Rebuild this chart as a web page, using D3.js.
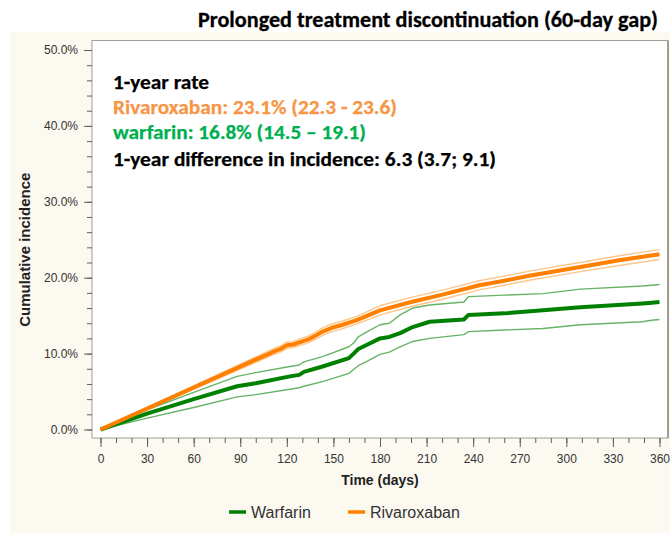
<!DOCTYPE html>
<html>
<head>
<meta charset="utf-8">
<script src="https://cdn.jsdelivr.net/npm/d3@7"></script>
<style>
  body { margin: 0; background: #fff; }
  text { font-family: 'Liberation Sans', Arial, sans-serif; }
  .tick text { fill: #333; font-size: 12px; }
  .tick line { stroke: #5f5f5f; }
  .title, .note { font-family: Carlito, 'Open Sans', sans-serif; font-weight: bold; }
</style>
</head>
<body>
<svg id="chart" width="670" height="533"></svg>
<script>
/* global d3 */

// tick values
var dayTicks = [0, 30, 60, 90, 120, 150, 180, 210, 240, 270, 300, 330, 360];
var dayMinor = d3.range(0, 361, 10);
var pctTicks = [0, 10, 20, 30, 40, 50];
var pctMinor = d3.range(0, 51, 2);

// rivaroxaban cumulative incidence (%)
var rivaDays = [0, 113, 116, 120, 124, 133, 138, 143, 149, 156, 165, 180, 200, 219, 244, 260, 277, 309, 334, 360];
var rivaEst  = [0, 10.4, 10.6, 11.1, 11.2, 11.8, 12.3, 12.9, 13.4, 13.8, 14.4, 15.7, 16.8, 17.7, 19.0, 19.6, 20.3, 21.4, 22.3, 23.1];
var rivaLow  = [0, 10.0, 10.2, 10.7, 10.8, 11.35, 11.85, 12.4, 12.9, 13.3, 13.9, 15.1, 16.2, 17.1, 18.4, 19.0, 19.7, 20.8, 21.6, 22.4];
var rivaHigh = [0, 10.8, 11.0, 11.5, 11.6, 12.25, 12.75, 13.4, 13.9, 14.3, 14.9, 16.3, 17.4, 18.3, 19.6, 20.2, 20.9, 22.0, 22.9, 23.7];

// warfarin cumulative incidence (%)
var warfDays = [0, 30, 60, 88, 100, 122, 128, 131, 143, 160, 163, 166, 171, 180, 186, 193, 201, 212, 234, 237, 260, 285, 309, 349, 355, 360];
var warfEst  = [0, 2.1, 4.0, 5.7, 6.1, 7.0, 7.2, 7.6, 8.3, 9.4, 10.0, 10.6, 11.1, 12.0, 12.2, 12.7, 13.5, 14.2, 14.5, 15.1, 15.3, 15.7, 16.1, 16.6, 16.7, 16.8];
var warfLow  = [0, 1.5, 2.9, 4.3, 4.6, 5.3, 5.5, 5.7, 6.3, 7.4, 7.9, 8.4, 8.9, 9.9, 10.2, 10.9, 11.6, 12.0, 12.5, 12.9, 13.1, 13.3, 13.8, 14.2, 14.4, 14.5];
var warfHigh = [0, 2.6, 4.9, 7.0, 7.5, 8.3, 8.5, 8.9, 9.6, 10.9, 11.4, 12.2, 12.8, 13.8, 14.0, 15.1, 16.0, 16.4, 16.8, 17.5, 17.7, 17.9, 18.5, 18.9, 19.0, 19.1];

// annotation block
var noteLines = [
  { text: '1-year rate', color: '#000' },
  { text: 'Rivaroxaban: 23.1% (22.3 - 23.6)', color: '#f79646' },
  { text: 'warfarin: 16.8% (14.5 \u2013 19.1)', color: '#00b050' },
  { text: '1-year difference in incidence: 6.3 (3.7; 9.1)', color: '#000' }
];
var noteWidths = [96, 284, 253, 383];

var legendItems = [
  { name: 'Warfarin', color: '#008000' },
  { name: 'Rivaroxaban', color: '#ff8000' }
];

var svg = d3.select('#chart');
var frame = { left: 92, top: 40.5, right: 668, bottom: 438 };

var x = d3.scaleLinear().domain([0, 360]).range([100.5, 659.5]);
var y = d3.scaleLinear().domain([0, 50]).range([429.5, 50]);

// beige backdrop and white plot area
svg.append('rect')
  .attr('x', 10).attr('y', 32)
  .attr('width', 660).attr('height', 501)
  .attr('fill', '#fcf9f1');
svg.append('rect')
  .attr('x', frame.left).attr('y', frame.top)
  .attr('width', frame.right - frame.left).attr('height', frame.bottom - frame.top)
  .attr('fill', '#fff').attr('stroke', '#a39e94').attr('stroke-width', 1);
svg.append('line')
  .attr('x1', frame.right).attr('x2', frame.right)
  .attr('y1', frame.top).attr('y2', frame.bottom)
  .attr('stroke', '#a39e94').attr('stroke-width', 2);

svg.append('text')
  .attr('class', 'title')
  .attr('x', 428).attr('y', 27)
  .attr('text-anchor', 'middle')
  .attr('font-size', 22.5)
  .attr('stroke', '#000').attr('stroke-width', 0.3)
  .attr('textLength', 460).attr('lengthAdjust', 'spacingAndGlyphs')
  .text('Prolonged treatment discontinuation (60-day gap)');

// axes: minor ticks first, then labelled majors
svg.append('g')
  .attr('transform', `translate(${frame.left},0)`)
  .call(d3.axisLeft(y).tickValues(pctMinor).tickSize(5).tickFormat(''))
  .call(g => g.select('.domain').remove());
svg.append('g')
  .attr('transform', `translate(${frame.left},0)`)
  .call(d3.axisLeft(y).tickValues(pctTicks).tickSize(8).tickPadding(6)
    .tickFormat(d => d.toFixed(1) + '%'))
  .call(g => g.select('.domain').remove());

svg.append('g')
  .attr('transform', `translate(0,${frame.bottom})`)
  .call(d3.axisBottom(x).tickValues(dayMinor).tickSize(5).tickFormat(''))
  .call(g => g.select('.domain').remove());
svg.append('g')
  .attr('transform', `translate(0,${frame.bottom})`)
  .call(d3.axisBottom(x).tickValues(dayTicks).tickSize(9).tickPadding(7))
  .call(g => g.select('.domain').remove());

svg.selectAll('.tick text').attr('font-family', null).attr('font-size', null);

svg.append('text')
  .attr('x', (frame.left + frame.right) / 2).attr('y', 485)
  .attr('text-anchor', 'middle')
  .attr('font-weight', 'bold').attr('font-size', 14).attr('fill', '#222')
  .text('Time (days)');

svg.append('text')
  .attr('transform', `translate(30,${(y(0) + y(50)) / 2 + 10}) rotate(-90)`)
  .attr('text-anchor', 'middle')
  .attr('font-weight', 'bold').attr('font-size', 15).attr('fill', '#222')
  .text('Cumulative incidence');

// curves
var line = d3.line().x(d => x(d[0])).y(d => y(d[1]));
var series = [
  { days: warfDays, vals: warfLow, color: '#008000', width: 1.4, opacity: 0.6 },
  { days: warfDays, vals: warfHigh, color: '#008000', width: 1.4, opacity: 0.6 },
  { days: warfDays, vals: warfEst, color: '#008000', width: 4, opacity: 1 },
  { days: rivaDays, vals: rivaLow, color: '#ff8000', width: 1.4, opacity: 0.45 },
  { days: rivaDays, vals: rivaHigh, color: '#ff8000', width: 1.4, opacity: 0.45 },
  { days: rivaDays, vals: rivaEst, color: '#ff8000', width: 4, opacity: 1 }
];

svg.append('g').selectAll('path')
  .data(series).enter()
  .append('path')
  .attr('d', s => line(s.days.map((d, i) => [d, s.vals[i]])))
  .attr('fill', 'none')
  .attr('stroke', s => s.color)
  .attr('stroke-width', s => s.width)
  .attr('stroke-opacity', s => s.opacity)
  .attr('stroke-linejoin', 'round');

// annotation
svg.append('g').selectAll('text')
  .data(noteLines).enter()
  .append('text')
  .attr('class', 'note')
  .attr('x', 113)
  .attr('y', (d, i) => 89 + i * 25 + (i === 3 ? 2 : 0))
  .attr('font-size', 20)
  .attr('fill', d => d.color)
  .attr('stroke', d => d.color).attr('stroke-width', 0.25)
  .attr('textLength', (d, i) => noteWidths[i])
  .attr('lengthAdjust', 'spacingAndGlyphs')
  .text(d => d.text);

// legend
var legend = svg.append('g').attr('transform', 'translate(229,512)');
var item = legend.selectAll('g')
  .data(legendItems).enter()
  .append('g')
  .attr('transform', (d, i) => `translate(${i * 119},0)`);
item.append('line')
  .attr('x1', 0).attr('x2', 17)
  .attr('stroke', d => d.color).attr('stroke-width', 3.5);
item.append('text')
  .attr('x', 22).attr('y', 5.5)
  .attr('font-size', 16).attr('fill', '#333')
  .text(d => d.name);
</script>
</body>
</html>
